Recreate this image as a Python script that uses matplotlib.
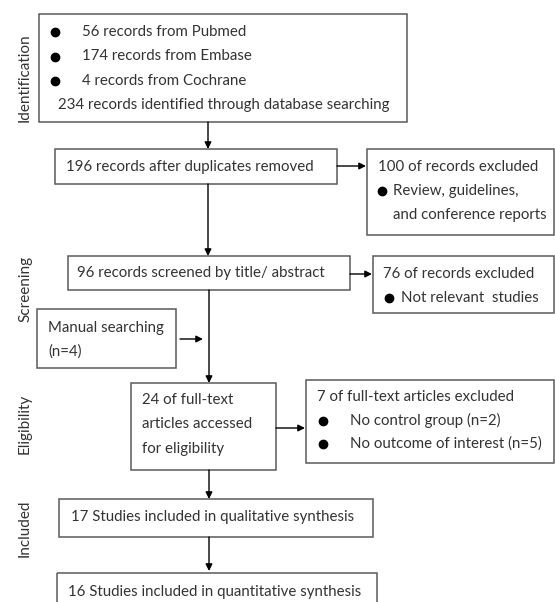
import matplotlib.pyplot as plt
from matplotlib.patches import Rectangle

plt.rcParams['font.family'] = ['Lato', 'DejaVu Sans']

# stage labels on the left
stages = ['Identification', 'Screening', 'Eligibility', 'Included']
stage_y = [78, 289, 424, 528]

# box texts (lines); a leading '•' marks a bullet line
id_lines = ['• 56 records from Pubmed', '• 174 records from Embase',
            '• 4 records from Cochrane', '234 records identified through database searching']
dup_lines = ['196 records after duplicates removed']
ex1_lines = ['100 of records excluded', '• Review, guidelines,', '  and conference reports']
scr_lines = ['96 records screened by title/ abstract']
ex2_lines = ['76 of records excluded', '• Not relevant  studies']
man_lines = ['Manual searching', '(n=4)']
full_lines = ['24 of full-text', 'articles accessed', 'for eligibility']
ex3_lines = ['7 of full-text articles excluded', '• No control group (n=2)',
             '• No outcome of interest (n=5)']
qual_lines = ['17 Studies included in qualitative synthesis']
quant_lines = ['16 Studies included in quantitative synthesis']

# layout: box (x0, y0, x1, y1) in pixels, text x, first line y, line step,
# bullet x, bullet text x
boxes = [
    (id_lines, (39, 14, 407, 122), 58, 32, 24.5, 55, 82),
    (dup_lines, (55, 149, 337, 184), 66, 167, 24, 0, 0),
    (ex1_lines, (367, 149, 554, 235), 378, 167, 24, 382, 393),
    (scr_lines, (68, 256, 350, 290), 77, 273, 24, 0, 0),
    (ex2_lines, (373, 256, 554, 313), 383, 274, 24, 389, 401),
    (man_lines, (37, 309, 176, 368), 48, 328, 24, 0, 0),
    (full_lines, (131, 383, 276, 470), 142, 400, 24.5, 0, 0),
    (ex3_lines, (306, 380, 554, 463), 317, 397, 23.5, 323, 350),
    (qual_lines, (59, 499, 373, 537), 71, 517, 24, 0, 0),
    (quant_lines, (57, 573, 377, 640), 68, 592, 24, 0, 0),
]

# arrows: start, end
arrows = [
    ((208, 122), (208, 149)),
    ((208, 184), (208, 256)),
    ((337, 166), (366, 166)),
    ((350, 274), (372, 274)),
    ((209, 290), (209, 383)),
    ((180, 339), (203, 339)),
    ((276, 428), (305, 428)),
    ((209, 470), (209, 499)),
    ((209, 537), (209, 571)),
]

col = '#333333'
fig = plt.figure(figsize=(5.55, 6.02), dpi=100)
ax = fig.add_axes([0, 0, 1, 1])
ax.set_xlim(0, 555)
ax.set_ylim(602, 0)
ax.axis('off')

for lines, (x0, y0, x1, y1), tx, ty, step, bx, btx in boxes:
    ax.add_patch(Rectangle((x0, y0), x1 - x0, y1 - y0, fill=False,
                           edgecolor='#5a5a5a', linewidth=1.1))
    for i, line in enumerate(lines):
        y = ty + i * step
        if line.startswith('•'):
            ax.plot(bx, y, 'o', color='black', markersize=6)
            ax.text(btx, y, line[1:].strip(), fontsize=10.8,
                    color=col, va='center', ha='left')
        elif line.startswith('  '):
            ax.text(btx, y, line.strip(), fontsize=10.8, color=col, va='center', ha='left')
        else:
            ax.text(tx, y, line, fontsize=10.8, color=col, va='center', ha='left')

for (sx, sy), (ex, ey) in arrows:
    ax.annotate('', xy=(ex, ey), xytext=(sx, sy),
                arrowprops=dict(arrowstyle='-|>', color='black', lw=1.0,
                                mutation_scale=10, shrinkA=0, shrinkB=0))

for s, y in zip(stages, stage_y):
    ax.text(25, y, s, rotation=90, fontsize=11, color=col, va='center', ha='center')

fig.savefig('out.png', dpi=100)
